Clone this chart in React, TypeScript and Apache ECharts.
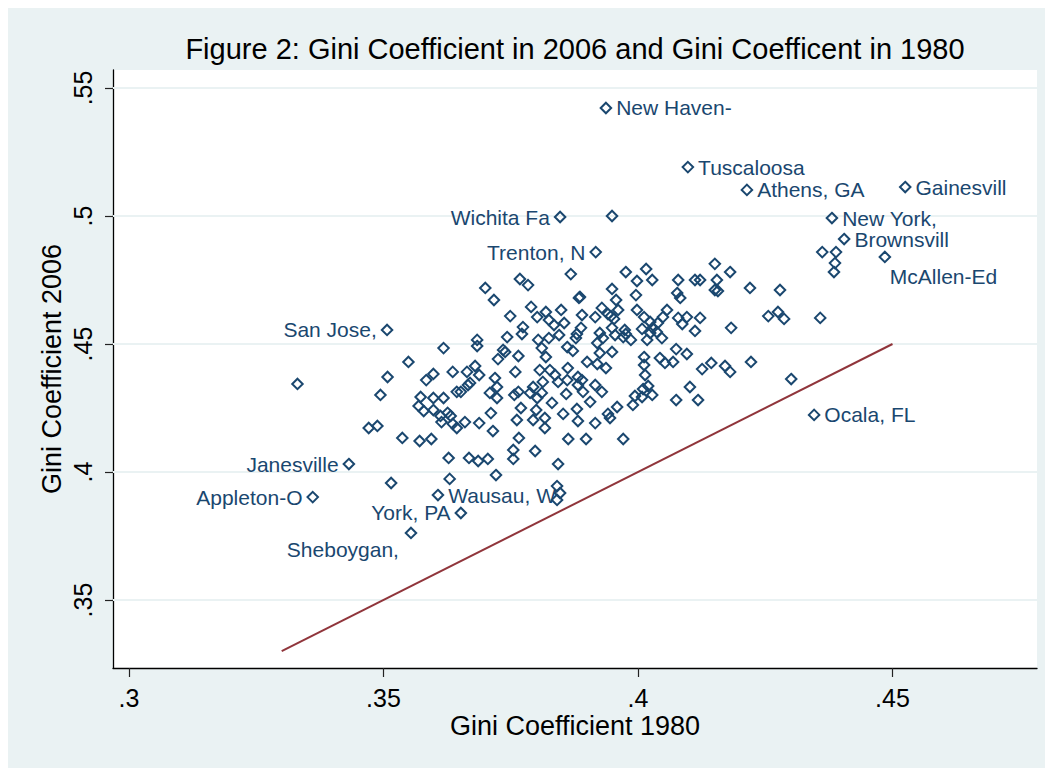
import React, { useEffect, useRef } from "react";
import * as echarts from "echarts";

// ---- Data ----
const xTicks = [0.3, 0.35, 0.4, 0.45];
const yTicks = [0.35, 0.4, 0.45, 0.5, 0.55];

const cityNames = [
  "New Haven-", "Tuscaloosa", "Athens, GA", "Gainesvill", "New York,", "Brownsvill",
  "McAllen-Ed", "Wichita Fa", "Trenton, N", "San Jose,", "Janesville", "Appleton-O",
  "York, PA", "Sheboygan,", "Wausau, W", "Ocala, FL",
];
const cityGini1980 = [
  0.3937, 0.4098, 0.4214, 0.4525, 0.4381, 0.4405,
  0.4485, 0.3847, 0.3917, 0.3507, 0.3432, 0.3361,
  0.3652, 0.3554, 0.3607, 0.4346,
];
const cityGini2006 = [
  0.5422, 0.5191, 0.5102, 0.5113, 0.4992, 0.4910,
  0.4840, 0.4996, 0.4859, 0.4555, 0.4031, 0.3902,
  0.3840, 0.3762, 0.3910, 0.4223,
];

const otherGini1980 = [
  0.3331, 0.3618, 0.3549, 0.3508, 0.3494, 0.3471, 0.3488, 0.3537, 0.3571, 0.3594,
  0.3584, 0.3598, 0.3636, 0.3664, 0.3573, 0.3598, 0.3618, 0.3569, 0.3579, 0.3598,
  0.3612, 0.3626, 0.3632, 0.3614, 0.3636, 0.3644, 0.3644, 0.3652, 0.3660, 0.3628,
  0.3668, 0.3686, 0.3705, 0.3630, 0.3515, 0.3721, 0.3755, 0.3755, 0.3798, 0.3766,
  0.3715, 0.3688, 0.3711, 0.3770, 0.3762, 0.3794, 0.3800, 0.3817, 0.3817, 0.3811,
  0.3794, 0.3807, 0.3813, 0.3757, 0.3759, 0.3765, 0.3725, 0.3739, 0.3684, 0.3684,
  0.3688, 0.3680, 0.3670, 0.3709, 0.3719, 0.3723, 0.3700, 0.3717, 0.3768, 0.3784,
  0.3868, 0.3884, 0.3976, 0.4016, 0.3998, 0.3949, 0.3996, 0.3957, 0.3961, 0.3749,
  0.3790, 0.3802, 0.3819, 0.3825, 0.3849, 0.3855, 0.3835, 0.3890, 0.3916, 0.3929,
  0.3947, 0.3953, 0.3998, 0.4012, 0.4008, 0.3774, 0.3772, 0.3743, 0.3804, 0.3825,
  0.3845, 0.3861, 0.3878, 0.3880, 0.3888, 0.3925, 0.3931, 0.3955, 0.3974, 0.3976,
  0.3986, 0.3949, 0.3920, 0.3900, 0.3872, 0.3811, 0.3819, 0.3735, 0.3827, 0.3837,
  0.3862, 0.3882, 0.3920, 0.3937, 0.4012, 0.4012, 0.3723, 0.3666, 0.3765, 0.3843,
  0.3861, 0.3882, 0.3892, 0.3916, 0.3929, 0.3788, 0.3802, 0.3859, 0.3831, 0.3853,
  0.3880, 0.3906, 0.3882, 0.3916, 0.3945, 0.3959, 0.3990, 0.4008, 0.4014, 0.3863,
  0.3898, 0.3971, 0.3843, 0.3841, 0.3847, 0.3841, 0.3886, 0.3941, 0.3971, 0.4024,
  0.4029, 0.4039, 0.4057, 0.4049, 0.4018, 0.4024, 0.4037, 0.4047, 0.4079, 0.4112,
  0.4122, 0.4151, 0.4181, 0.4155, 0.4151, 0.4157, 0.4077, 0.4083, 0.4220, 0.4279,
  0.4362, 0.4389, 0.4387, 0.4385, 0.4079, 0.4096, 0.4087, 0.4122, 0.4112, 0.4183,
  0.4256, 0.4275, 0.4287, 0.4358, 0.4075, 0.4096, 0.3925, 0.4043, 0.4053, 0.4069,
  0.4020, 0.4010, 0.4028, 0.3994, 0.3941, 0.3890, 0.4075, 0.4102, 0.4118, 0.4126,
  0.4144, 0.4171, 0.4181, 0.4222, 0.4301, 0.3949, 0.4028, 0.3949,
];
const otherGini2006 = [
  0.4344, 0.4484, 0.4430, 0.4371, 0.4301, 0.4172, 0.4180, 0.4133, 0.4121, 0.4129,
  0.4359, 0.4383, 0.4391, 0.4391, 0.4293, 0.4289, 0.4289, 0.4258, 0.4238, 0.4242,
  0.4219, 0.4231, 0.4219, 0.4195, 0.4188, 0.4172, 0.4313, 0.4313, 0.4195, 0.4055,
  0.4055, 0.4043, 0.4051, 0.3973, 0.3957, 0.3988, 0.4086, 0.4051, 0.4082, 0.4133,
  0.4160, 0.4191, 0.4230, 0.4250, 0.4203, 0.4203, 0.4242, 0.4172, 0.4211, 0.4309,
  0.4332, 0.4398, 0.4352, 0.4301, 0.4391, 0.4453, 0.4441, 0.4469, 0.4516, 0.4492,
  0.4379, 0.4414, 0.4348, 0.4309, 0.4367, 0.4289, 0.4719, 0.4672, 0.4754, 0.4730,
  0.4773, 0.4680, 0.4781, 0.4793, 0.4746, 0.4715, 0.4691, 0.4672, 0.4633, 0.4609,
  0.4645, 0.4605, 0.4625, 0.4594, 0.4633, 0.4582, 0.4574, 0.4613, 0.4605, 0.4641,
  0.4609, 0.4598, 0.4633, 0.4605, 0.4559, 0.4566, 0.4539, 0.4527, 0.4516, 0.4523,
  0.4535, 0.4488, 0.4523, 0.4539, 0.4563, 0.4543, 0.4523, 0.4535, 0.4555, 0.4539,
  0.4516, 0.4469, 0.4504, 0.4430, 0.4473, 0.4484, 0.4449, 0.4477, 0.4398, 0.4379,
  0.4406, 0.4371, 0.4422, 0.4406, 0.4449, 0.4418, 0.4332, 0.4340, 0.4313, 0.4352,
  0.4359, 0.4340, 0.4313, 0.4340, 0.4313, 0.4309, 0.4289, 0.4305, 0.4270, 0.4227,
  0.4246, 0.4274, 0.4199, 0.4191, 0.4211, 0.4254, 0.4262, 0.4293, 0.4379, 0.4129,
  0.4129, 0.4129, 0.4031, 0.3945, 0.3918, 0.3891, 0.4684, 0.4617, 0.4527, 0.4586,
  0.4563, 0.4582, 0.4633, 0.4605, 0.4516, 0.4543, 0.4547, 0.4523, 0.4750, 0.4750,
  0.4750, 0.4813, 0.4781, 0.4750, 0.4711, 0.4707, 0.4699, 0.4680, 0.4719, 0.4711,
  0.4859, 0.4859, 0.4816, 0.4781, 0.4602, 0.4605, 0.4578, 0.4602, 0.4551, 0.4563,
  0.4609, 0.4625, 0.4598, 0.4602, 0.4480, 0.4461, 0.4465, 0.4445, 0.4426, 0.4430,
  0.4336, 0.4324, 0.4301, 0.4297, 0.4227, 0.4359, 0.4281, 0.4332, 0.4281, 0.4402,
  0.4426, 0.4414, 0.4391, 0.4430, 0.4363, 0.5000, 0.4750, 0.4563,
];

// 45-degree reference line endpoints (x = y)
const equalityLine = [0.33, 0.45];

// Axis ranges
const xRange = [0.29686, 0.47839];
const yRange = [0.32344, 0.55703];

// ---- Label placement (clock positions) ----
const labelPlacement: Record<string, string> = {
  "New Haven-": "right", "Tuscaloosa": "right", "Athens, GA": "right", "Gainesvill": "right",
  "New York,": "right", "Brownsvill": "right", "McAllen-Ed": "belowRight",
  "Wichita Fa": "left", "Trenton, N": "left", "San Jose,": "left", "Janesville": "left",
  "Appleton-O": "left", "York, PA": "left", "Sheboygan,": "belowLeft",
  "Wausau, W": "right", "Ocala, FL": "right",
};

const NAVY = "#1a476f";
const MAROON = "#90353b";
const BG = "#eaf2f3";
const FONT = "'Liberation Sans', Arial, Helvetica, sans-serif";
const SYM = 10.5;

const fmt = (v: number) => String(+Number(v).toFixed(2)).replace(/^0/, "");

function labelFor(place: string) {
  const base = { show: true, formatter: "{b}", color: NAVY, fontSize: 21, fontFamily: FONT };
  if (place === "left") return { ...base, position: "left", distance: 4 };
  if (place === "belowRight")
    return { ...base, position: [SYM / 2 + 6, SYM / 2 + 21], align: "left", verticalAlign: "middle" };
  if (place === "belowLeft")
    return { ...base, position: [SYM / 2 - 11, SYM / 2 + 18], align: "right", verticalAlign: "middle" };
  return { ...base, position: "right", distance: 4 };
}

export default function App() {
  const ref = useRef<HTMLDivElement>(null);

  useEffect(() => {
    if (!ref.current) return;
    const chart = echarts.init(ref.current, undefined, { renderer: "svg" });

    const others = otherGini1980.map((x, i) => [x, otherGini2006[i]]);
    const labeled = cityNames.map((name, i) => ({
      name,
      value: [cityGini1980[i], cityGini2006[i]],
      label: labelFor(labelPlacement[name]),
    }));

    const markerStyle = {
      color: "rgba(255,255,255,0)",
      borderColor: NAVY,
      borderWidth: 2,
      opacity: 1,
    };

    const gridSeries = yTicks.map((v) => ({
      type: "line",
      data: [
        [xRange[0], v],
        [xRange[1], v],
      ],
      showSymbol: false,
      symbol: "none",
      silent: true,
      z: 0,
      lineStyle: { color: BG, width: 2 },
    }));

    const option: any = {
      animation: false,
      backgroundColor: BG,
      textStyle: { fontFamily: FONT },
      grid: {
        left: 105,
        top: 66,
        right: 8,
        bottom: 100,
        show: true,
        backgroundColor: "#ffffff",
        borderWidth: 0,
      },
      xAxis: {
        type: "value",
        min: xRange[0],
        max: xRange[1],
        axisLine: { show: true, onZero: false, lineStyle: { color: "#000", width: 1.3 } },
        axisTick: { show: true, customValues: xTicks, length: 9, lineStyle: { color: "#222", width: 1.2 } },
        axisLabel: { customValues: xTicks, formatter: fmt, fontSize: 25, color: "#000", margin: 17, fontFamily: FONT },
        splitLine: { show: false },
      },
      yAxis: {
        type: "value",
        min: yRange[0],
        max: yRange[1],
        axisLine: { show: true, onZero: false, lineStyle: { color: "#000", width: 1.3 } },
        axisTick: { show: true, customValues: yTicks, length: 8, lineStyle: { color: "#222", width: 1.2 } },
        axisLabel: { customValues: yTicks, formatter: fmt, fontSize: 25, color: "#000", margin: 18, rotate: 90, fontFamily: FONT },
        splitLine: { show: false },
      },
      graphic: [
        {
          type: "text",
          x: 567,
          y: 45,
          style: {
            text: "Figure 2: Gini Coefficient in 2006 and Gini Coefficent in 1980",
            fontSize: 29,
            fontFamily: FONT,
            fill: "#000",
            align: "center",
            verticalAlign: "middle",
            textAlign: "center",
            textVerticalAlign: "middle",
          },
        },
        {
          type: "text",
          x: 567,
          y: 722,
          style: {
            text: "Gini Coefficient 1980",
            fontSize: 27,
            fontFamily: FONT,
            fill: "#000",
            align: "center",
            verticalAlign: "middle",
            textAlign: "center",
            textVerticalAlign: "middle",
          },
        },
        {
          type: "text",
          x: 44,
          y: 365,
          rotation: Math.PI / 2,
          style: {
            text: "Gini Coefficient 2006",
            fontSize: 27,
            fontFamily: FONT,
            fill: "#000",
            align: "center",
            verticalAlign: "middle",
            textAlign: "center",
            textVerticalAlign: "middle",
          },
        },
      ],
      series: [
        ...gridSeries,
        {
          type: "line",
          data: equalityLine.map((v) => [v, v]),
          showSymbol: false,
          symbol: "none",
          silent: true,
          z: 2,
          lineStyle: { color: MAROON, width: 2 },
        },
        {
          type: "scatter",
          data: others,
          symbol: "diamond",
          symbolSize: SYM,
          itemStyle: markerStyle,
          silent: true,
          z: 3,
        },
        {
          type: "scatter",
          data: labeled,
          symbol: "diamond",
          symbolSize: SYM,
          itemStyle: markerStyle,
          silent: true,
          z: 3,
          labelLayout: { hideOverlap: false },
        },
      ],
    };

    chart.setOption(option);
    return () => chart.dispose();
  }, []);

  return <div ref={ref} style={{ width: 1037, height: 764, marginTop: -4 }} />;
}
